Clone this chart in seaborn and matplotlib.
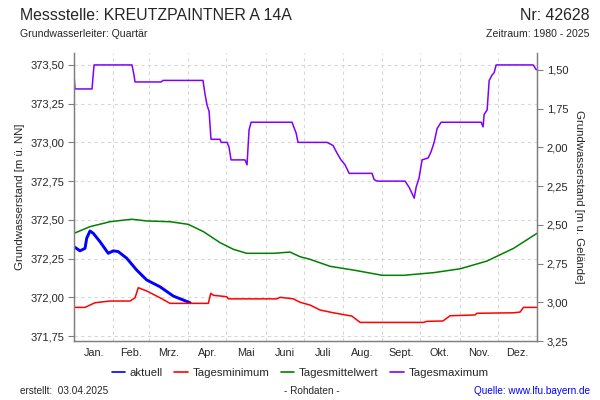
import matplotlib
matplotlib.use("Agg")
import matplotlib.pyplot as plt
import matplotlib.ticker as mticker
from matplotlib.lines import Line2D
import seaborn as sns
import pandas as pd

# ---------------- data (day of year, level m ü. NN) ----------------
months = ["Jan.", "Feb.", "Mrz.", "Apr.", "Mai", "Juni", "Juli", "Aug.", "Sept.", "Okt.", "Nov.", "Dez."]
month_bounds = [0, 31, 59, 90, 120, 151, 181, 212, 243, 273, 304, 334, 365]

aktuell_day = [0, 4.7, 8.7, 10, 12.6, 15.2, 20.5, 27, 31, 34.9, 41.6, 49.4, 57.3, 67.8, 78.3, 91.5]
aktuell_val = [372.327, 372.30, 372.316, 372.381, 372.428, 372.413, 372.359, 372.284, 372.30, 372.295,
               372.252, 372.176, 372.112, 372.068, 372.008, 371.965]

min_day = [0, 8.7, 12.6, 16.6, 28.4, 44.2, 48.1, 50.7, 57.3, 67.8, 75.7, 105.9, 107.8, 109.9, 120.4, 121.7,
           159.9, 162.5, 172.9, 178.2, 186.1, 194, 204.5, 219, 225.6, 275.5, 278.2, 290.8, 296.5, 316.2,
           317.6, 346.5, 351.7, 354.3, 365]
min_val = [371.935, 371.935, 371.95, 371.965, 371.976, 371.976, 371.997, 372.062, 372.041, 371.997, 371.961,
           371.961, 372.026, 372.013, 372.004, 371.99, 371.99, 372.0, 371.99, 371.968, 371.95, 371.918, 371.90,
           371.879, 371.838, 371.838, 371.845, 371.847, 371.881, 371.886, 371.897, 371.90, 371.905, 371.935,
           371.935]

mean_day = [0, 12.6, 28.4, 45.5, 57.3, 75.7, 90.1, 102, 115.1, 125.6, 136.2, 157.2, 170.3, 178.2, 186.1,
            201.9, 220.3, 243.1, 259.7, 283.4, 304.4, 325.5, 346.5, 365]
mean_val = [372.413, 372.456, 372.488, 372.504, 372.493, 372.488, 372.471, 372.424, 372.353, 372.31, 372.284,
            372.284, 372.292, 372.262, 372.245, 372.20, 372.176, 372.142, 372.142, 372.159, 372.184, 372.234,
            372.316, 372.413]

max_day = [0, 0.8, 14.2, 15.8, 45.7, 47.3, 48.1, 68.6, 70.2, 101.7, 103.3, 104.9, 106.5, 108, 115.1, 116,
           120.7, 122.2, 123.8, 134.8, 136.4, 138, 139.6, 171.9, 175.1, 176.6, 199.5, 204.2, 207.4, 210.5,
           213.7, 216.9, 235, 236.6, 239, 261, 264.2, 268.2, 269.7, 272, 274.4, 279.2, 281.5, 283.9, 286.3,
           289.4, 321, 322.5, 323.3, 325.7, 327.3, 329.6, 331.2, 332.8, 362, 364.3, 365]
max_val = [373.435, 373.345, 373.345, 373.50, 373.50, 373.435, 373.39, 373.39, 373.40, 373.40, 373.31,
           373.24, 373.20, 373.02, 373.02, 373.00, 373.00, 372.97, 372.887, 372.887, 372.855, 373.08, 373.13,
           373.13, 373.06, 373.0, 373.0, 372.98, 372.93, 372.887, 372.855, 372.80, 372.80, 372.76, 372.75,
           372.75, 372.71, 372.64, 372.71, 372.77, 372.887, 372.90, 372.94, 373.0, 373.09, 373.13, 373.13,
           373.10, 373.18, 373.21, 373.40, 373.435, 373.45, 373.50, 373.50, 373.47, 373.47]

left_ticks = [371.75, 372.00, 372.25, 372.50, 372.75, 373.00, 373.25, 373.50]
right_ticks = [1.50, 1.75, 2.00, 2.25, 2.50, 2.75, 3.00, 3.25]
ground_level = 374.968

# ---------------- style ----------------
sns.set_style("white")
plt.rcParams["font.family"] = ["Liberation Sans", "DejaVu Sans"]

fig = plt.figure(figsize=(6, 4), dpi=100)
ax = fig.add_axes([74 / 600, 1 - 341 / 400, (537 - 74) / 600, (341 - 53) / 400])

series = [
    (aktuell_day, aktuell_val, "aktuell", "#0000ff", 2.1),
    (min_day, min_val, "Tagesminimum", "#ff0000", 1.1),
    (mean_day, mean_val, "Tagesmittelwert", "#008000", 1.1),
    (max_day, max_val, "Tagesmaximum", "#8000ff", 1.1),
]
handles = []
for d, v, name, col, lw in series:
    df = pd.DataFrame({"day": d, "val": v})
    sns.lineplot(data=df, x="day", y="val", ax=ax, color=col, linewidth=lw, estimator=None, sort=False)
    handles.append(Line2D([], [], color=col, linewidth=1.2, label=name))

ylo, yhi = 371.718, 373.577
ax.set_xlim(0, 365)
ax.set_ylim(ylo, yhi)

comma = mticker.FuncFormatter(lambda v, p: f"{v:.2f}".replace(".", ","))
ax.set_yticks(left_ticks)
ax.yaxis.set_major_formatter(comma)
ax.set_xticks(month_bounds)
ax.set_xticklabels([])
mids = [(month_bounds[i] + month_bounds[i + 1]) / 2 for i in range(12)]
ax.set_xticks(mids, minor=True)
ax.set_xticklabels(months, minor=True)
ax.tick_params(axis="x", which="major", length=4, width=0.8, color="#808080", direction="out")
ax.tick_params(axis="x", which="minor", length=0, labelsize=7.8, pad=5)
ax.tick_params(axis="y", length=4, width=0.8, color="#808080", labelsize=8, direction="out", pad=3)
ax.set_xlabel("")
ax.set_ylabel("Grundwasserstand [m ü. NN]", fontsize=8.2, labelpad=4)

ax.grid(True, which="major", color="#d8d8d8", linestyle=(0, (3, 3)), linewidth=0.8)
ax.set_axisbelow(True)
for s in ["left", "right", "bottom"]:
    ax.spines[s].set_color("#808080")
    ax.spines[s].set_linewidth(1.0)
ax.spines["top"].set_visible(False)

ax2 = ax.twinx()
ax2.set_ylim(ground_level - ylo, ground_level - yhi)
ax2.set_yticks(right_ticks)
ax2.yaxis.set_major_formatter(comma)
ax2.tick_params(axis="y", length=4, width=0.8, color="#808080", labelsize=8, direction="out", pad=3)
ax2.set_ylabel("Grundwasserstand [m u. Gelände]", fontsize=8.2, rotation=270, labelpad=11)
ax2.grid(False)
for s in ["left", "right", "bottom"]:
    ax2.spines[s].set_color("#808080")
ax2.spines["top"].set_visible(False)

# ---------------- texts ----------------
fig.text(20 / 600, 1 - 15 / 400, "Messstelle: KREUTZPAINTNER A 14A", fontsize=11.4, va="center", ha="left")
fig.text(590 / 600, 1 - 15 / 400, "Nr: 42628", fontsize=11.4, va="center", ha="right")
fig.text(20 / 600, 1 - 34 / 400, "Grundwasserleiter: Quartär", fontsize=7.6, va="center", ha="left")
fig.text(590 / 600, 1 - 34 / 400, "Zeitraum: 1980 - 2025", fontsize=7.6, va="center", ha="right")

fig.legend(handles=handles, loc="center", bbox_to_anchor=(300 / 600, 1 - 373 / 400), ncol=4,
           frameon=False, fontsize=8.2, handlelength=1.2, handletextpad=0.4, columnspacing=1.0)

fig.text(20 / 600, 1 - 391 / 400, "erstellt:  03.04.2025", fontsize=7.2, va="center", ha="left")
fig.text(312 / 600, 1 - 391 / 400, "- Rohdaten -", fontsize=7.2, va="center", ha="center")
fig.text(590 / 600, 1 - 391 / 400, "Quelle: www.lfu.bayern.de", fontsize=7.2, va="center", ha="right",
         color="#0000ff")

fig.savefig("out.png", dpi=100)
